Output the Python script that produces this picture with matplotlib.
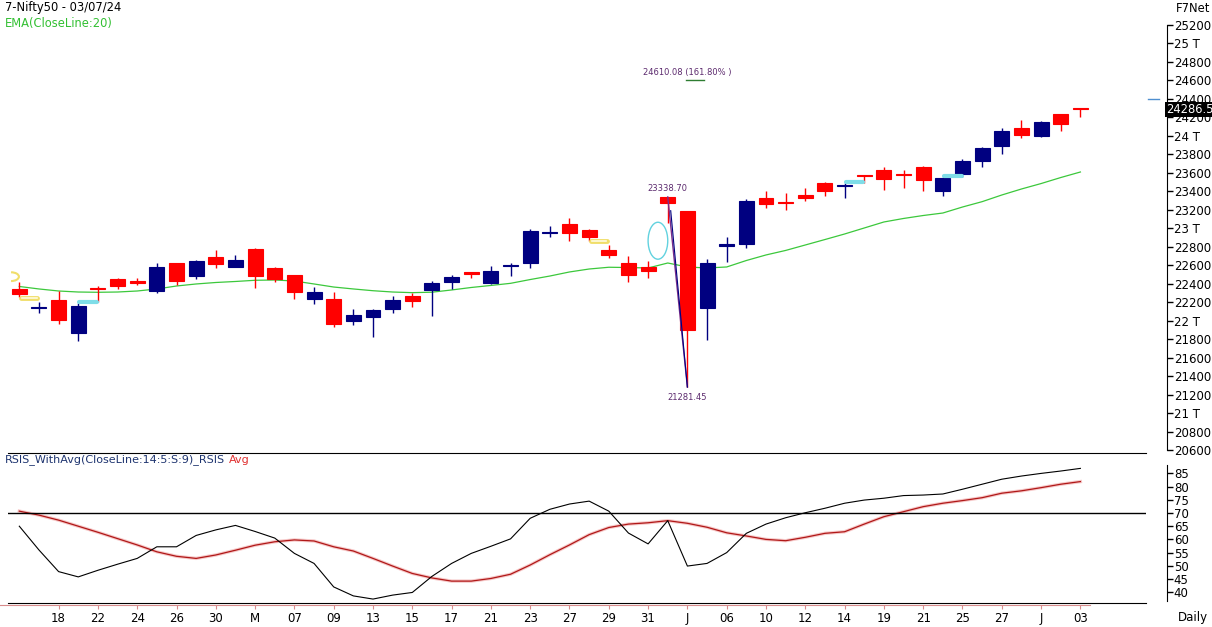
import matplotlib
matplotlib.use("Agg")
import matplotlib.pyplot as plt
import matplotlib.transforms as mtransforms
from matplotlib.patches import Ellipse, Arc
import numpy as np

plt.rcParams['font.family'] = ['DejaVu Sans']

# Nifty50 daily candles, 15 Apr 2024 - 03 Jul 2024
opens = [22339, 22140, 22223, 21870, 22352, 22448, 22429, 22324, 22621, 22487,
         22692, 22584, 22776, 22567, 22491, 22238, 22234, 22000, 22043, 22129,
         22264, 22335, 22422, 22524, 22411, 22588, 22627, 22945, 23046, 22981,
         22765, 22624, 22581, 23337.9, 23190, 22140, 22811, 22833, 23328, 23284,
         23357, 23487, 23462, 23573, 23627, 23584, 23660, 23400, 23591, 23731,
         23894, 24082, 24002, 24233, 24298]
highs = [22422, 22205, 22321, 22188, 22375, 22458, 22465, 22621, 22627, 22657,
         22765, 22711, 22786, 22584, 22495, 22361, 22310, 22126, 22126, 22267,
         22296, 22429, 22494, 22526, 22592, 22621, 22989, 23024, 23114, 22992,
         22816, 22700, 22646, 23338.70, 23190, 22667, 22909, 23313, 23403, 23378,
         23433, 23504, 23487, 23575, 23660, 23631, 23671, 23552, 23746, 23880,
         24082, 24172, 24158, 24236, 24305]
lows = [22259, 22080, 21964, 21783, 22199, 22343, 22389, 22303, 22389, 22448,
        22573, 22577, 22350, 22415, 22238, 22184, 21935, 21953, 21826, 22086,
        22151, 22050, 22343, 22465, 22397, 22483, 22573, 22909, 22865, 22862,
        22681, 22422, 22462, 23060, 21281.45, 21791, 22638, 22790, 23223, 23201,
        23295, 23352, 23331, 23493, 23414, 23439, 23403, 23352, 23558, 23666,
        23807, 23980, 23991, 24053, 24208]
closes = [22285, 22151, 22007, 22159, 22348, 22378, 22411, 22578, 22432, 22642,
          22613, 22657, 22487, 22451, 22313, 22310, 21967, 22061, 22119, 22224,
          22216, 22404, 22472, 22508, 22537, 22599, 22970, 22956, 22945, 22902,
          22714, 22497, 22541, 23277, 21899, 22624, 22826, 23298, 23266, 23277,
          23331, 23407, 23471, 23565, 23530, 23576, 23519, 23541, 23725, 23869,
          24050, 24013, 24147, 24132, 24286.5]
ema20 = [22370, 22343, 22321, 22310, 22307, 22310, 22321, 22343, 22375, 22397,
         22413, 22424, 22437, 22440, 22429, 22397, 22364, 22343, 22324, 22310,
         22303, 22308, 22332, 22359, 22381, 22404, 22445, 22483, 22527, 22559,
         22578, 22575, 22570, 22624, 22581, 22570, 22581, 22651, 22711, 22760,
         22819, 22878, 22938, 23003, 23068, 23106, 23138, 23165, 23230, 23288,
         23360, 23425, 23484, 23549, 23609]
rsi = [65, 56, 47.8, 45.8, 48.3, 50.6, 52.8, 57.2, 57.2, 61.5,
       63.6, 65.3, 63, 60.5, 54.7, 50.9, 42, 38.6, 37.4, 38.9,
       39.9, 46, 50.9, 54.7, 57.4, 60.2, 68, 71.4, 73.4, 74.5,
       70.7, 62.4, 58.3, 67.1, 49.9, 50.9, 55, 62.3, 65.8, 68.2,
       70.1, 71.8, 73.7, 74.9, 75.6, 76.6, 76.8, 77.2, 79, 80.9,
       82.8, 84, 85, 85.9, 86.9]
rsi_avg = [70.7, 69.2, 67.3, 65, 62.7, 60.3, 57.9, 55.3, 53.6, 52.8,
           54.1, 55.9, 57.8, 59.1, 59.8, 59.4, 57.2, 55.6, 52.8, 49.9,
           47.1, 45.4, 44.2, 44.2, 45.2, 46.8, 50.3, 54.2, 57.9, 61.8,
           64.5, 65.8, 66.3, 67.1, 66.1, 64.6, 62.5, 61.3, 60, 59.5,
           60.8, 62.3, 62.9, 65.8, 68.6, 70.5, 72.4, 73.7, 74.7, 75.8,
           77.5, 78.4, 79.6, 80.9, 81.9]
# every second session is labelled
tick_labels = ['18', '22', '24', '26', '30', 'M', '07', '09', '13', '15', '17', '21', '23', '27',
               '29', '31', 'J', '06', '10', '12', '14', '19', '21', '25', '27', 'J', '03']
# small signal bars (start candle, price level)
yellow_sig = [(0, 22245), (29, 22859)]
cyan_sig = [(3, 22204), (42, 23506), (47, 23566)]

W, H = 1212, 627
fig = plt.figure(figsize=(W / 100, H / 100), dpi=100)
ax = fig.add_axes([8 / W, (H - 453) / H, 1138 / W, 453 / H])
ax_rsi = fig.add_axes([8 / W, (H - 603) / H, 1138 / W, 150 / H])
ax_x = fig.add_axes([0, (H - 605) / H, 1090 / W, 0.0005])

x = np.arange(len(closes))
o = np.array(opens)
c = np.array(closes)
colors = np.where(c >= o, '#000080', '#ff0000')


def px_to_idx(p):
    return (p - 19.3) / 19.65


# ---- price panel
ax.plot(x, ema20, color='#3cc83c', lw=0.9, zorder=1)
ax.vlines(x, lows, highs, colors=colors, lw=1.0, zorder=2)
ax.bar(x, np.abs(c - o), bottom=np.minimum(o, c), width=0.76, color=colors,
       edgecolor=colors, linewidth=0.8, zorder=3)

for i, p in yellow_sig:
    ax.plot([i + 0.08, i + 0.92], [p, p], color='#f0de6a', lw=3.5, solid_capstyle='round', zorder=4)
    ax.plot([i + 0.12, i + 0.88], [p, p], color='#fffbe0', lw=1.2, zorder=4)
for i, p in cyan_sig:
    ax.plot([i + 0.05, i + 0.95], [p, p], color='#7fdde8', lw=3, solid_capstyle='round', zorder=4)
ax.add_patch(Arc((-0.42, 22476), 0.8, 95, theta1=-90, theta2=90, color='#f0de6a', lw=1.5))
ax.add_patch(Ellipse((32.5, 22865), 1.0, 400, fill=False, ec='#62d2df', lw=1))

# swing high / low and 161.8% extension
hi, lo = highs[33], lows[34]
ax.plot([33, 34], [hi, lo], color='#7b2d8b', lw=1, zorder=5)
ax.plot([33.15, 34], [opens[34], lo], color='#000080', lw=0.8, zorder=5)
purple = '#5c2a6e'
ax.annotate(f'{hi:.2f}', (33, hi), xytext=(0, 6.3), textcoords='offset points',
            ha='center', va='center', fontsize=6, color=purple)
ax.annotate(f'{lo:.2f}', (34, lo), xytext=(0, -7.7), textcoords='offset points',
            ha='center', va='center', fontsize=6, color=purple)
level = lo + 1.618 * (hi - lo)
ax.plot([33.95, 34.85], [level, level], color='#2e7d32', lw=1)
ax.annotate(f'{level:.2f} (161.80% )', (34, level), xytext=(0, 5), textcoords='offset points',
            ha='center', va='center', fontsize=6, color=purple)

ax.set_xlim(px_to_idx(8), px_to_idx(1146))
ax.set_ylim(25200 - 428 * 10.8235, 25200 + 25 * 10.8235)
ax.set_xticks([])
for s in ['top', 'left', 'bottom']:
    ax.spines[s].set_visible(False)
ax.yaxis.tick_right()
ax.spines['right'].set_position(('outward', 15))
ax.spines['right'].set_bounds(20600, 25200)
ax.set_yticks(range(20600, 25201, 200))
ax.set_yticklabels([f'{v // 1000} T' if v % 1000 == 0 else str(v) for v in range(20600, 25201, 200)])
ax.tick_params(axis='y', direction='out', length=4, width=1, labelsize=8.5, pad=1)

trans = mtransforms.blended_transform_factory(ax.transAxes, ax.transData)
ax.plot([1.002, 1.011], [24400, 24400], transform=trans, color='#4f8fd0', lw=1, clip_on=False)
ax.text(1.0175, closes[-1], f'{closes[-1]:.1f}', transform=trans, color='white', fontsize=8.3,
        va='center', ha='left', clip_on=False, zorder=6,
        bbox=dict(boxstyle='square,pad=0.08', fc='black', ec='none'))

# ---- RSI panel
ax_rsi.plot(x, rsi_avg, color='#f6c8c8', lw=2.4)
ax_rsi.plot(x, rsi_avg, color='#b01818', lw=0.9)
ax_rsi.plot(x, rsi, color='black', lw=0.8)
ax_rsi.axhline(70, color='black', lw=1)
ax_rsi.set_xlim(ax.get_xlim())
ax_rsi.set_ylim(70 - 90 / 2.64, 70 + 60 / 2.64)
ax_rsi.set_xticks([])
ax_rsi.spines['left'].set_visible(False)
ax_rsi.yaxis.tick_right()
ax_rsi.spines['right'].set_position(('outward', 15))
ax_rsi.spines['right'].set_bounds(36.5, 88)
ax_rsi.set_yticks(range(40, 86, 5))
ax_rsi.tick_params(axis='y', direction='out', length=4, width=1, labelsize=8.5, pad=1)

# ---- date axis
pink = '#d98c8c'
ax_x.set_xlim(px_to_idx(0), px_to_idx(1090))
ax_x.set_xticks(range(2, len(closes), 2))
ax_x.set_xticklabels(tick_labels)
ax_x.set_yticks([])
for s in ['top', 'left', 'right']:
    ax_x.spines[s].set_visible(False)
ax_x.spines['bottom'].set_color(pink)
ax_x.patch.set_visible(False)
ax_x.tick_params(axis='x', direction='out', length=3, color=pink, labelcolor='black',
                 labelsize=8.5, pad=2)

# ---- titles
fig.text(5 / W, 1 - 7 / H, '7-Nifty50 - 03/07/24', fontsize=8.3, va='center')
fig.text(5 / W, 1 - 23 / H, 'EMA(CloseLine:20)', fontsize=8.3, va='center', color='#33c033')
fig.text(1176 / W, 1 - 8 / H, 'F7Net', fontsize=8.3, va='center')
fig.text(1178 / W, 1 - 618 / H, 'Daily', fontsize=8.5, va='center')
t = fig.text(5 / W, 1 - 460 / H, 'RSIS_WithAvg(CloseLine:14:5:S:9)_RSIS', fontsize=8,
             va='center', color='#1f3570')
fig.canvas.draw()
bb = t.get_window_extent()
fig.text((bb.x1 + 4) / W, 1 - 460 / H, 'Avg', fontsize=8, va='center', color='#e03030')

fig.savefig('out.png', dpi=100)
